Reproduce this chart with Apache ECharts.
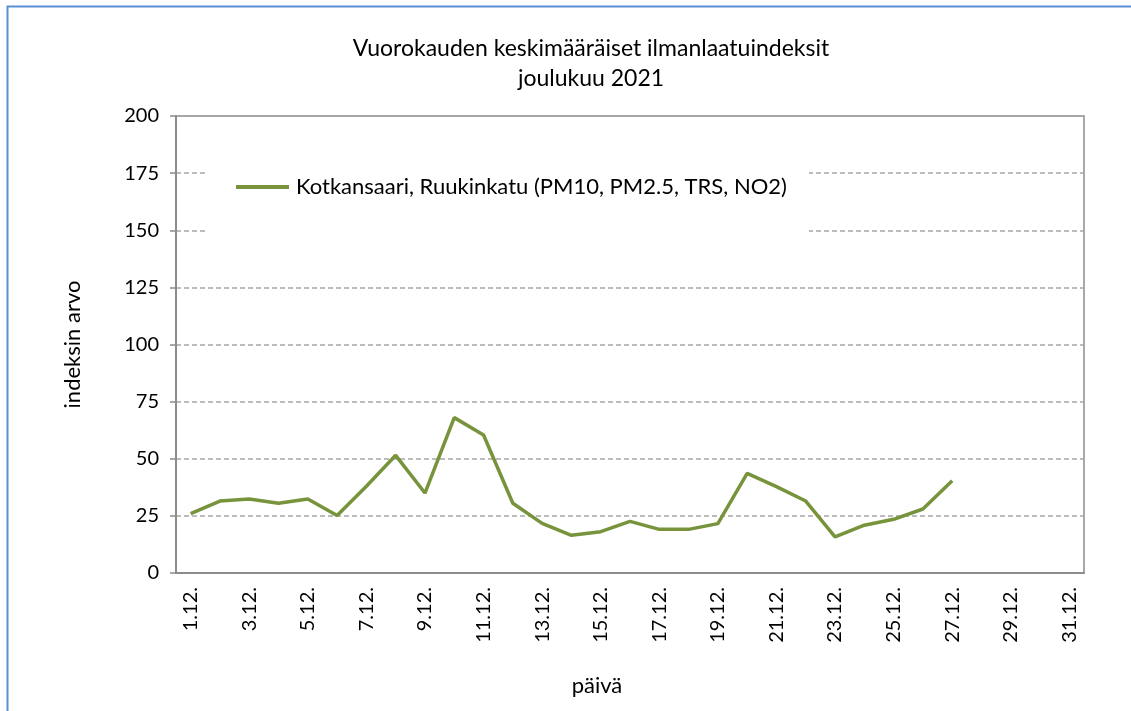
<!DOCTYPE html>
<html>
<head>
<meta charset="utf-8">
<script src="https://cdn.jsdelivr.net/npm/echarts@6/dist/echarts.min.js"></script>
<style>
html,body{margin:0;padding:0;background:#fff;}
#c{width:1131px;height:711px;}
</style>
</head>
<body>
<div id="c"></div>
<script>
const categories = ['1.12.','2.12.','3.12.','4.12.','5.12.','6.12.','7.12.','8.12.','9.12.','10.12.',
  '11.12.','12.12.','13.12.','14.12.','15.12.','16.12.','17.12.','18.12.','19.12.','20.12.',
  '21.12.','22.12.','23.12.','24.12.','25.12.','26.12.','27.12.','28.12.','29.12.','30.12.','31.12.'];
const seriesName = 'Kotkansaari, Ruukinkatu (PM10, PM2.5, TRS, NO2)';
const values = [26, 31.5, 32.4, 30.5, 32.4, 25.2, 38, 51.5, 35, 68, 60.4, 30.5, 21.7, 16.5, 18.1, 22.6,
  19.1, 19.1, 21.6, 43.6, 37.8, 31.5, 15.8, 20.9, 23.5, 28, 40.4, null, null, null, null];
const yTicks = {min: 0, max: 200, interval: 25};
const titleText = 'Vuorokauden keskimääräiset ilmanlaatuindeksit\njoulukuu 2021';
const yName = 'indeksin arvo';
const xName = 'päivä';

const FONT = 'Lato';
const chart = echarts.init(document.getElementById('c'), null, {renderer: 'canvas'});
chart.setOption({
  backgroundColor: '#fff',
  animation: false,
  textStyle: {fontFamily: FONT},
  graphic: [{
    type: 'rect', z: -10, silent: true,
    shape: {x: 7.5, y: 6.5, width: 1140, height: 720},
    style: {fill: '#fff', stroke: '#5b8fd6', lineWidth: 2}
  }],
  title: [{
    text: titleText,
    left: 586, top: 29, textAlign: 'center',
    textStyle: {fontFamily: FONT, fontSize: 23, fontWeight: 'normal', color: '#000', lineHeight: 30}
  }, {
    text: xName,
    left: 592, top: 670, textAlign: 'center',
    textStyle: {fontFamily: FONT, fontSize: 22, fontWeight: 'normal', color: '#000'}
  }],
  legend: {
    left: 206, top: 141,
    padding: [35, 22, 45, 30],
    backgroundColor: '#fff',
    itemWidth: 53, itemHeight: 4,
    itemGap: 0,
    textStyle: {fontFamily: FONT, fontSize: 22, color: '#000', padding: [0, 0, 0, 2]},
    data: [{name: seriesName, icon: 'rect', itemStyle: {color: '#77933c'}}]
  },
  grid: {
    left: 176, top: 116, right: 47, bottom: 138,
    show: true, borderColor: '#8c8c8c', borderWidth: 1.5, backgroundColor: 'transparent'
  },
  xAxis: {
    type: 'category',
    data: categories,
    boundaryGap: true,
    axisLine: {lineStyle: {color: '#8c8c8c', width: 2}},
    axisTick: {interval: 1, length: 6, lineStyle: {color: '#8c8c8c', width: 1.5}},
    axisLabel: {interval: 1, rotate: 90, margin: 14, fontSize: 20, color: '#000', fontFamily: FONT},
    splitLine: {show: false}
  },
  yAxis: {
    type: 'value',
    min: yTicks.min, max: yTicks.max, interval: yTicks.interval,
    name: yName,
    nameLocation: 'middle',
    nameGap: 92,
    nameTextStyle: {fontSize: 22, color: '#000', fontFamily: FONT},
    axisLine: {show: true, lineStyle: {color: '#8c8c8c', width: 2}},
    axisTick: {show: true, length: 6, lineStyle: {color: '#8c8c8c', width: 1.5}},
    axisLabel: {margin: 17, fontSize: 20, color: '#000', fontFamily: FONT},
    splitLine: {show: true, lineStyle: {color: '#a6a6a6', width: 1.5, type: [5, 3]}}
  },
  series: [{
    name: seriesName,
    type: 'line',
    data: values,
    symbol: 'none',
    connectNulls: false,
    lineStyle: {color: '#77933c', width: 3.5},
    itemStyle: {color: '#77933c'}
  }]
});
</script>
</body>
</html>
